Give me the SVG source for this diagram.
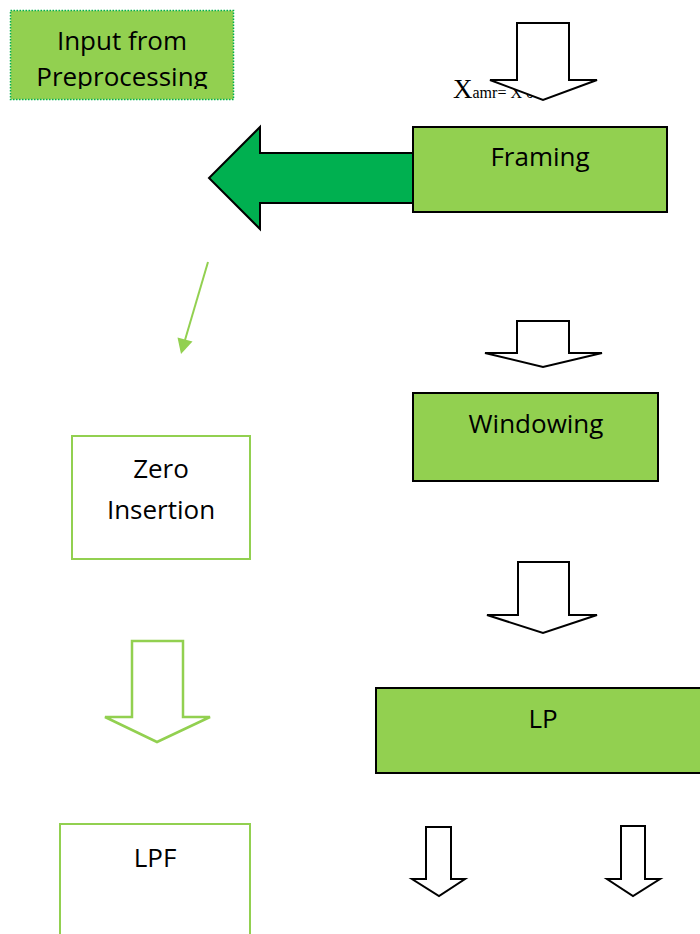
<svg xmlns="http://www.w3.org/2000/svg" width="700" height="934" viewBox="0 0 700 934">
  <defs>
    <style>
      .lbl { font-family: "Open Sans", "Liberation Sans", sans-serif; font-size: 26px; fill: #000; text-anchor: middle; }
      .solid { fill: #92d050; stroke: #000; stroke-width: 2; }
      .outline { fill: #fff; stroke: #92d050; stroke-width: 2; }
      .blk { fill: #fff; stroke: #000; stroke-width: 2; stroke-linejoin: miter; }
      .grn { fill: #fff; stroke: #92d050; stroke-width: 2.5; }
    </style>
    <clipPath id="inClip">
      <rect x="10" y="10" width="224" height="79"/>
    </clipPath>
  </defs>
  <rect width="700" height="934" fill="#fff"/>

  <g id="input">
    <rect x="10.5" y="10.5" width="223" height="89" fill="#92d050" stroke="#00b050" stroke-width="1.5" stroke-dasharray="1.5 1.5"/>
    <g clip-path="url(#inClip)">
      <text class="lbl" x="122" y="50" font-size="25">Input from</text>
      <text class="lbl" x="122" y="86" font-size="25">Preprocessing</text>
    </g>
  </g>

  <g id="formula">
    <text x="453" y="98" font-family="Liberation Serif, serif" fill="#000"><tspan font-size="27">X</tspan><tspan font-size="16">amr= X 0</tspan></text>
  </g>

  <g id="connectors">
    <!-- block arrows between stages -->
    <path class="blk" d="M517,23 H569 V80 H597 L543,100 L490,80 H517 Z"/>
    <path class="blk" d="M517,321 H569 V353 H602 L543,367 L485,353 H517 Z"/>
    <path class="blk" d="M518,562 H569 V615 H597 L543,633 L487,615 H518 Z"/>
    <path class="blk" d="M426,827 H451 V879 H465 L439,896 L412,879 H426 Z"/>
    <path class="blk" d="M621,826 H645 V879 H660 L633,896 L607,879 H621 Z"/>
    <!-- large green arrow leaving Framing -->
    <path d="M413,153 H260 V127 L209,178 L260,229 V203 H413 Z" fill="#00b050" stroke="#000" stroke-width="2"/>
    <!-- thin green arrow with filled head -->
    <line x1="208" y1="262" x2="185" y2="340" stroke="#92d050" stroke-width="2"/>
    <polygon points="181,354 177.5,337.5 192.5,341.5" fill="#92d050"/>
    <!-- green outline block arrow -->
    <path class="grn" d="M132,641 H183 V717 H210 L157,742 L105,717 H132 Z"/>
  </g>

  <g id="framing">
    <rect class="solid" x="413" y="127" width="254" height="85"/>
    <text class="lbl" x="540" y="166">Framing</text>
  </g>

  <g id="windowing">
    <rect class="solid" x="413" y="393" width="245" height="88"/>
    <text class="lbl" x="536" y="433">Windowing</text>
  </g>

  <g id="zero-insertion">
    <rect class="outline" x="72" y="436" width="178" height="123"/>
    <text class="lbl" x="161" y="478" font-size="28">Zero</text>
    <text class="lbl" x="161" y="519" font-size="28">Insertion</text>
  </g>

  <g id="lp">
    <rect class="solid" x="376" y="688" width="330" height="85"/>
    <text class="lbl" x="543" y="728">LP</text>
  </g>

  <g id="lpf">
    <rect class="outline" x="60" y="824" width="190" height="120"/>
    <text class="lbl" x="155" y="867">LPF</text>
  </g>
</svg>
